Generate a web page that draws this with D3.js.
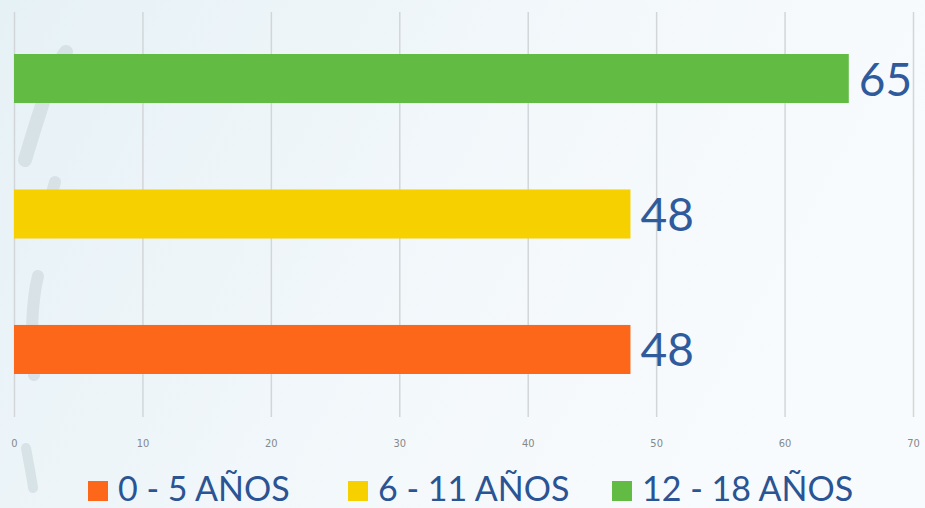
<!DOCTYPE html>
<html>
<head>
<meta charset="utf-8">
<script src="https://cdn.jsdelivr.net/npm/d3@7"></script>
<style>
  body { margin: 0; background: #f2f7fa; }
  svg { display: block; }
</style>
</head>
<body>
<svg width="925" height="508"></svg>
<script>
// chart data
const categories = ['12 - 18 AÑOS', '6 - 11 AÑOS', '0 - 5 AÑOS'];
const values = [65, 48, 48];
const colors = ['#62bb43', '#f7d000', '#fd6719'];
const tickValues = [0, 10, 20, 30, 40, 50, 60, 70];
const legendLabels = ['0 - 5 AÑOS', '6 - 11 AÑOS', '12 - 18 AÑOS'];
const legendColors = ['#fd6719', '#f7d000', '#62bb43'];

const svg = d3.select('svg');
const width = +svg.attr('width');
const height = +svg.attr('height');

// background gradient
const defs = svg.append('defs');
const grad = defs.append('linearGradient').attr('id', 'bg')
    .attr('x1', 0).attr('y1', 0).attr('x2', 1).attr('y2', 0.3);
grad.append('stop').attr('offset', '0%').attr('stop-color', '#e6f1f6');
grad.append('stop').attr('offset', '60%').attr('stop-color', '#f3f8fb');
grad.append('stop').attr('offset', '100%').attr('stop-color', '#f8fbfd');
svg.append('rect').attr('width', width).attr('height', height).attr('fill', 'url(#bg)');

// faint decorative strokes on the left
const deco = svg.append('g').attr('fill', 'none').attr('stroke', '#d4dfe3')
    .attr('stroke-linecap', 'round').attr('opacity', 0.8);
deco.append('path').attr('d', 'M66,52 C52,70 40,110 25,160').attr('stroke-width', 14);
deco.append('path').attr('d', 'M55,182 C50,200 45,215 42,230').attr('stroke-width', 12);
deco.append('path').attr('d', 'M38,276 C32,300 30,340 34,375').attr('stroke-width', 12);
deco.append('path').attr('d', 'M26,448 C30,470 32,480 33,488').attr('stroke-width', 10);

const margin = {top: 12, left: 14};
const innerWidth = 913 - margin.left;
const innerHeight = 417 - margin.top;

const g = svg.append('g').attr('transform', `translate(${margin.left},${margin.top})`);

const xScale = d3.scaleLinear().domain([0, 70]).range([0, innerWidth]);
const yScale = d3.scaleBand().domain(categories).range([42, 362]).paddingInner(0.638).paddingOuter(0);

// gridlines
const grid = g.append('g')
    .call(d3.axisBottom(xScale).tickValues(tickValues).tickSize(innerHeight).tickFormat(''));
grid.select('.domain').remove();
grid.selectAll('.tick text').remove();
grid.selectAll('.tick line').attr('stroke', '#d3d6d8').attr('stroke-width', 1.5);

// tick labels
const xAxis = g.append('g')
    .attr('transform', `translate(0,${innerHeight})`)
    .call(d3.axisBottom(xScale).tickValues(tickValues).tickSize(0).tickPadding(22));
xAxis.select('.domain').remove();
xAxis.selectAll('text')
    .attr('fill', '#85888b')
    .style('font-family', '"Liberation Sans Narrow", "DejaVu Sans Condensed", sans-serif')
    .style('font-size', '11px');

// bars
g.selectAll('rect.bar')
    .data(values)
    .enter().append('rect')
    .attr('class', 'bar')
    .attr('x', 0)
    .attr('y', (d, i) => yScale(categories[i]))
    .attr('width', d => xScale(d))
    .attr('height', yScale.bandwidth())
    .attr('fill', (d, i) => colors[i]);

// value labels
g.selectAll('text.val')
    .data(values)
    .enter().append('text')
    .attr('class', 'val')
    .attr('x', d => xScale(d) + 10)
    .attr('y', (d, i) => yScale(categories[i]) + yScale.bandwidth() / 2 + 17)
    .attr('fill', '#2f5b9c')
    .style('font-family', 'Lato, "Open Sans", sans-serif')
    .style('font-size', '46px')
    .text(d => d);

// legend
const legendX = [88, 348, 612];
const legend = svg.append('g');
legendLabels.forEach((lab, i) => {
    legend.append('rect')
        .attr('x', legendX[i]).attr('y', 481)
        .attr('width', 20).attr('height', 20)
        .attr('fill', legendColors[i]);
    legend.append('text')
        .attr('x', legendX[i] + 30).attr('y', 501)
        .attr('fill', '#2a5493')
        .style('font-family', 'Lato, "Open Sans", sans-serif')
        .style('font-size', '34px')
        .text(lab);
});
</script>
</body>
</html>
